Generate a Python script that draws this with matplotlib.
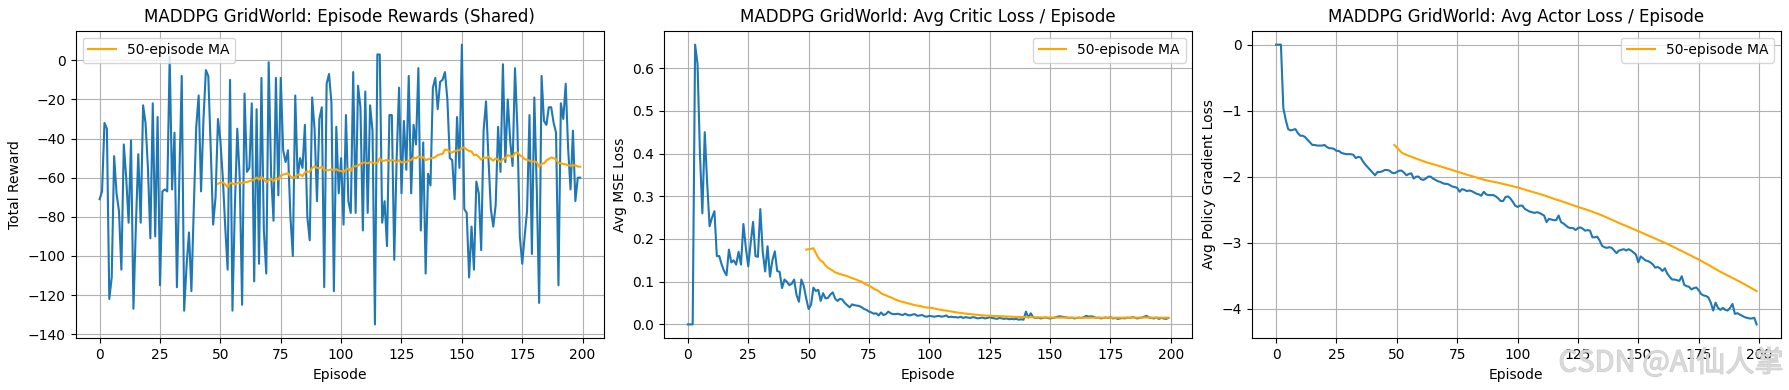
import numpy as np
import matplotlib
matplotlib.use("Agg")
import matplotlib.pyplot as plt
import matplotlib.patheffects as pe

episodes = np.arange(200)

rewards = [
    -71, -67, -32, -35, -122, -111, -49, -68, -77, -107,
    -43, -60, -83, -41, -127, -85, -48, -83, -23, -32,
    -55, -91, -22, -90, -29, -115, -67, -66, -67, 2,
    -66, -37, -116, -60, -8, -128, -105, -88, -118, -75,
    -34, -18, -67, -30, -5, -8, -45, -84, -70, -30,
    -41, -60, -85, -107, -10, -128, -75, -35, -60, -125,
    -17, -57, -55, -22, -113, -25, -104, -9, -87, -109,
    -1, -58, -82, -9, -69, -9, -46, -52, -46, -80,
    -100, -18, -60, -50, -55, -33, -80, -92, -19, -35,
    -72, -30, -24, -116, -12, -7, -22, -118, -34, -68,
    -50, -84, -28, -72, -78, -6, -78, -13, -24, -87,
    -16, -78, -23, -36, -135, 3, 3, -83, -72, -95,
    -28, -28, -102, -50, -14, -68, -31, -56, -8, -68,
    -33, -43, -4, -87, -42, -109, -58, -64, -14, -9,
    -25, -11, -10, -6, -20, -50, -51, -71, -29, -55,
    8, -76, -78, -111, -85, -107, -62, -68, -97, -36,
    -21, -50, -76, -85, -74, -34, -57, -2, -52, -20,
    -41, -54, -4, -35, -90, -104, -90, -77, -28, -99,
    -19, -65, -124, -8, -31, -33, -24, -24, -32, -37,
    -115, -22, -30, -12, -45, -66, -36, -72, -60, -60,
]

critic_loss = [
    0.0, 0.0, 0.0, 0.655, 0.61, 0.40, 0.26, 0.45, 0.33, 0.23,
    0.25, 0.265, 0.16, 0.16, 0.14, 0.125, 0.115, 0.175, 0.145, 0.15,
    0.14, 0.17, 0.14, 0.235, 0.18, 0.136, 0.19, 0.24, 0.16, 0.158,
    0.27, 0.17, 0.124, 0.183, 0.112, 0.15, 0.171, 0.125, 0.123, 0.085,
    0.105, 0.10, 0.092, 0.095, 0.105, 0.069, 0.053, 0.105, 0.09, 0.061,
    0.036, 0.046, 0.086, 0.078, 0.081, 0.055, 0.073, 0.061, 0.062, 0.07,
    0.075, 0.06, 0.055, 0.06, 0.058, 0.05, 0.045, 0.04, 0.047, 0.045,
    0.044, 0.043, 0.04, 0.036, 0.034, 0.03, 0.028, 0.025, 0.026, 0.021,
    0.028, 0.022, 0.024, 0.03, 0.026, 0.024, 0.024, 0.025, 0.023, 0.022,
    0.025, 0.022, 0.021, 0.023, 0.024, 0.02, 0.021, 0.022, 0.019, 0.018,
    0.02, 0.019, 0.018, 0.019, 0.02, 0.018, 0.019, 0.021, 0.017, 0.018,
    0.017, 0.017, 0.016, 0.018, 0.015, 0.017, 0.016, 0.015, 0.017, 0.016,
    0.014, 0.015, 0.016, 0.014, 0.015, 0.017, 0.015, 0.014, 0.013, 0.015,
    0.014, 0.013, 0.014, 0.012, 0.013, 0.012, 0.013, 0.011, 0.012, 0.011,
    0.030, 0.016, 0.026, 0.017, 0.015, 0.016, 0.014, 0.015, 0.016, 0.015,
    0.014, 0.015, 0.016, 0.018, 0.019, 0.018, 0.017, 0.016, 0.015, 0.016,
    0.014, 0.015, 0.016, 0.015, 0.017, 0.020, 0.018, 0.019, 0.018, 0.015,
    0.016, 0.014, 0.015, 0.016, 0.015, 0.017, 0.014, 0.015, 0.013, 0.014,
    0.015, 0.014, 0.016, 0.015, 0.017, 0.016, 0.014, 0.015, 0.016, 0.018,
    0.020, 0.016, 0.015, 0.014, 0.016, 0.013, 0.015, 0.014, 0.013, 0.015,
]

actor_loss = [
    0.0, 0.0, 0.0, -0.96, -1.14, -1.28, -1.30, -1.29, -1.28, -1.34,
    -1.38, -1.38, -1.40, -1.44, -1.48, -1.52, -1.52, -1.53, -1.53, -1.53,
    -1.52, -1.55, -1.57, -1.57, -1.58, -1.61, -1.61, -1.64, -1.65, -1.66,
    -1.66, -1.66, -1.67, -1.72, -1.70, -1.71, -1.77, -1.82, -1.86, -1.90,
    -1.94, -1.98, -1.93, -1.93, -1.92, -1.90, -1.90, -1.91, -1.94, -1.95,
    -1.93, -1.91, -1.91, -1.94, -1.98, -1.96, -1.95, -2.03, -2.00, -2.00,
    -2.04, -2.05, -2.03, -2.00, -2.00, -2.03, -2.05, -2.07, -2.08, -2.10,
    -2.11, -2.11, -2.13, -2.15, -2.16, -2.17, -2.23, -2.19, -2.20, -2.22,
    -2.21, -2.22, -2.24, -2.26, -2.27, -2.29, -2.23, -2.27, -2.28, -2.28,
    -2.28, -2.30, -2.33, -2.37, -2.37, -2.31, -2.30, -2.33, -2.38, -2.44,
    -2.46, -2.44, -2.44, -2.49, -2.51, -2.53, -2.54, -2.55, -2.54, -2.55,
    -2.57, -2.59, -2.69, -2.64, -2.65, -2.66, -2.66, -2.59, -2.69, -2.71,
    -2.74, -2.77, -2.78, -2.78, -2.81, -2.78, -2.77, -2.79, -2.82, -2.81,
    -2.82, -2.92, -2.92, -2.91, -2.97, -3.05, -3.07, -3.08, -3.07, -3.08,
    -3.12, -3.16, -3.12, -3.11, -3.10, -3.12, -3.10, -3.12, -3.15, -3.18,
    -3.30, -3.21, -3.24, -3.27, -3.28, -3.30, -3.33, -3.38, -3.37, -3.39,
    -3.43, -3.39, -3.47, -3.52, -3.56, -3.56, -3.57, -3.58, -3.51, -3.64,
    -3.66, -3.67, -3.71, -3.69, -3.68, -3.72, -3.78, -3.80, -3.81, -3.83,
    -3.91, -4.03, -3.91, -3.99, -4.02, -3.99, -4.02, -4.03, -3.99, -3.93,
    -4.08, -4.07, -4.09, -4.11, -4.13, -4.14, -4.15, -4.15, -4.14, -4.24,
]

window = 50
titles = [
    "MADDPG GridWorld: Episode Rewards (Shared)",
    "MADDPG GridWorld: Avg Critic Loss / Episode",
    "MADDPG GridWorld: Avg Actor Loss / Episode",
]
ylabels = ["Total Reward", "Avg MSE Loss", "Avg Policy Gradient Loss"]
legend_locs = ["upper left", "upper right", "upper right"]
series = [rewards, critic_loss, actor_loss]


def moving_average(vals, w):
    return np.convolve(np.asarray(vals, dtype=float), np.ones(w) / w, mode="valid")


fig, axes = plt.subplots(1, 3, figsize=(17.89, 3.9), dpi=100)
for ax, vals, title, ylab, loc in zip(axes, series, titles, ylabels, legend_locs):
    ax.plot(episodes, vals, color="#1f77b4")
    ma = moving_average(vals, window)
    ax.plot(episodes[window - 1:], ma, color="orange", label=f"{window}-episode MA")
    ax.set_title(title)
    ax.set_xlabel("Episode")
    ax.set_ylabel(ylab)
    ax.grid(True)
    ax.legend(loc=loc)

fig.tight_layout(pad=0.6)
fig.text(0.997, 0.068, "CSDN @AI仙人掌", ha="right", va="center", fontsize=21,
         color="#dadada", alpha=0.8, family=["Noto Sans CJK SC", "DejaVu Sans"],
         path_effects=[pe.withStroke(linewidth=0.8, foreground="#c4c4c4")])
fig.savefig("out.png", dpi=100)
